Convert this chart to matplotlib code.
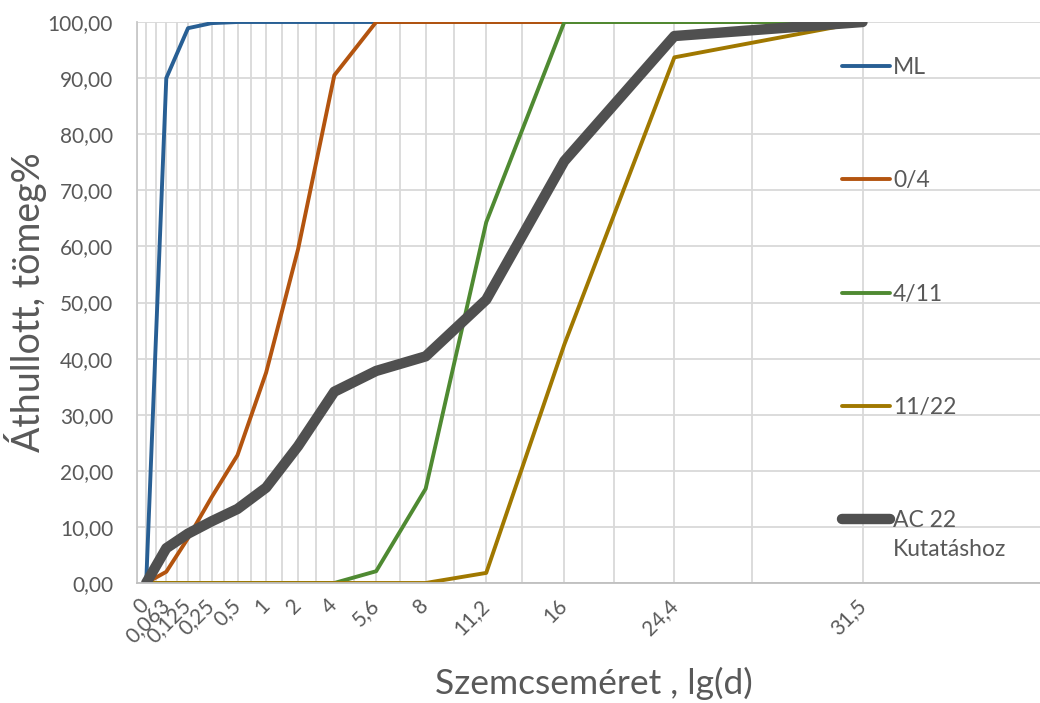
import numpy as np
import matplotlib
matplotlib.use("Agg")
import matplotlib.pyplot as plt

plt.rcParams['font.family'] = ['Lato', 'DejaVu Sans']

# sieve sizes (mm) shown on the x axis
sieves = ["0", "0,063", "0,125", "0,25", "0,5", "1", "2", "4", "5,6", "8", "11,2", "16", "24,4", "31,5"]

# passing, mass %
ml = [0, 90.0, 98.9, 99.8, 100, 100, 100, 100, 100, 100, 100, 100, 100, 100]
fine_0_4 = [0, 2.0, 8.0, 15.3, 22.8, 37.5, 59.5, 90.5, 100, 100, 100, 100, 100, 100]
grit_4_11 = [0, 0, 0, 0, 0, 0, 0, 0, 2.1, 16.8, 64.3, 100, 100, 100]
grit_11_22 = [0, 0, 0, 0, 0, 0, 0, 0, 0, 0, 1.8, 42.5, 93.7, 100]
ac22 = [0, 6.2, 8.8, 11.0, 13.2, 17.0, 24.4, 34.1, 37.8, 40.4, 50.5, 75.2, 97.5, 100]

series = [
    ("ML", ml, "#285F94", 2.8),
    ("0/4", fine_0_4, "#B3540F", 2.8),
    ("4/11", grit_4_11, "#4F8A32", 2.8),
    ("11/22", grit_11_22, "#A07800", 2.8),
    ("AC 22", ac22, "#505050", 7.5),
]

# Excel-style axis: each sieve sits on every second grid line of a
# reversed log axis (position grows like -log(29 - u))
def fwd(u):
    return -np.log(np.maximum(29.0 - np.asarray(u, dtype=float), 1e-9))

def inv(v):
    return 29.0 - np.exp(-np.asarray(v, dtype=float))

u = np.arange(len(sieves)) * 2 + 1

fig = plt.figure(figsize=(10.4, 7.03), dpi=100)
ax = fig.add_axes([0.1314, 0.1707, 0.8686, 0.798])
ax.set_xscale('function', functions=(fwd, inv))

for name, vals, col, lw in series:
    ax.plot(u, vals, color=col, lw=lw, label=name,
            solid_joinstyle='round', solid_capstyle='round')

ax.set_xlim(0, 27.96)
ax.set_ylim(0, 100)

ax.set_xticks(u)
ax.set_xticklabels(sieves)
ax.set_xticks(np.arange(0, 28, 2), minor=True)
ax.set_yticks(np.arange(0, 101, 10))
ax.set_yticklabels([f"{v:.2f}".replace(".", ",") for v in np.arange(0, 101, 10)])

ax.grid(True, which='both', color='#d9d9d9', lw=1.3)
ax.set_axisbelow(True)
ax.tick_params(axis='both', which='both', length=0, labelsize=15, colors='#595959')
ax.tick_params(axis='y', pad=17)
ax.tick_params(axis='x', pad=14)
for lab in ax.get_xticklabels():
    lab.set_rotation(45)
    lab.set_ha('right')
    lab.set_va('center')
    lab.set_rotation_mode('anchor')

for s in ['top', 'right']:
    ax.spines[s].set_visible(False)
ax.spines['left'].set_color('#c8c8c8')
ax.spines['bottom'].set_color('#bfbfbf')
ax.spines['left'].set_linewidth(1.3)
ax.spines['bottom'].set_linewidth(1.3)

ax.set_ylabel("Áthullott, tömeg%", fontsize=27, color='#595959')
ax.yaxis.set_label_coords(-0.099, 0.5)
ax.set_xlabel("Szemcseméret , lg(d)", fontsize=25.5, color='#595959')
ax.xaxis.set_label_coords(0.506, -0.15)

leg = ax.legend(loc='upper left', bbox_to_anchor=(842 / 1040, 1 - 57 / 703),
                bbox_transform=fig.transFigure, frameon=False, fontsize=16.5,
                handlelength=2.1, handletextpad=0.12, labelspacing=4.03,
                borderpad=0, borderaxespad=0)
for t in leg.get_texts():
    t.set_color('#595959')
fig.text(893 / 1040, 1 - 549 / 703, "Kutatáshoz", fontsize=16.5,
         color='#595959', va='center')

fig.savefig("out.png", dpi=100)
